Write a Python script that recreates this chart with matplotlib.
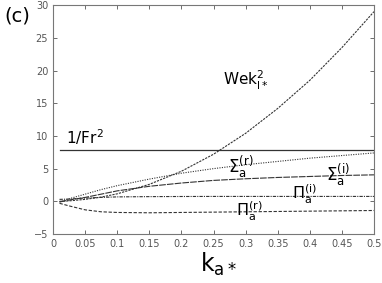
import matplotlib
matplotlib.use("Agg")
import matplotlib.pyplot as plt

k = [0.01, 0.025, 0.05, 0.075, 0.1, 0.15, 0.2, 0.25, 0.3, 0.35, 0.4, 0.45, 0.5]
wek = [0.0, 0.07, 0.3, 0.65, 1.15, 2.6, 4.6, 7.2, 10.4, 14.2, 18.5, 23.5, 29.0]
sigma_r = [-0.1, 0.4, 1.1, 1.8, 2.4, 3.4, 4.3, 5.0, 5.6, 6.1, 6.6, 7.0, 7.4]
sigma_i = [-0.1, 0.2, 0.6, 1.1, 1.6, 2.3, 2.8, 3.2, 3.45, 3.65, 3.8, 3.95, 4.05]
pi_i = [0.3, 0.35, 0.5, 0.6, 0.68, 0.72, 0.74, 0.75, 0.75, 0.75, 0.75, 0.75, 0.75]
pi_r = [-0.3, -0.7, -1.3, -1.6, -1.7, -1.75, -1.7, -1.65, -1.6, -1.55, -1.5, -1.45, -1.4]
inv_fr2 = 7.9

xticks = [0, 0.05, 0.1, 0.15, 0.2, 0.25, 0.3, 0.35, 0.4, 0.45, 0.5]
xticklabels = ["0", "0.05", "0.1", "0.15", "0.2", "0.25", "0.3", "0.35", "0.4", "0.45", "0.5"]
yticks = [-5, 0, 5, 10, 15, 20, 25, 30]

plt.rcParams['mathtext.default'] = 'regular'
fig = plt.figure(figsize=(3.82, 2.83), dpi=100)
ax = fig.add_axes([0.139, 0.173, 0.840, 0.809])

lc = '#333333'
ax.plot(k, wek, color=lc, lw=0.8, ls=(0, (2, 1)))
ax.plot([k[0], k[-1]], [inv_fr2, inv_fr2], color=lc, lw=0.9, ls='-')
ax.plot(k, sigma_r, color=lc, lw=0.8, ls=(0, (1, 1.2)))
ax.plot(k, sigma_i, color=lc, lw=0.8, ls=(0, (6, 1)))
ax.plot(k, pi_i, color=lc, lw=0.8, ls=(0, (3, 1, 1, 1)))
ax.plot(k, pi_r, color=lc, lw=0.8, ls=(0, (3, 1.5)))

ax.set_xlim(0, 0.5)
ax.set_ylim(-5, 30)
ax.set_xticks(xticks)
ax.set_xticklabels(xticklabels)
ax.set_yticks(yticks)
ax.tick_params(direction='in', top=True, right=True, labelsize=7, colors='#555555', length=3, width=0.6)
for s in ax.spines.values():
    s.set_color('#777777')
    s.set_linewidth(0.8)

ax.set_xlabel(r'k$_{a*}$', fontsize=17, labelpad=3)
ax.xaxis.set_label_coords(0.515, -0.075)

ax.text(0.265, 18.5, r'Wek$_{l*}^{2}$', fontsize=11, ha='left', va='center')
ax.text(0.02, 8.3, r'1/Fr$^{2}$', fontsize=11, ha='left', va='bottom')
ax.text(0.272, 5.3, r'$\Sigma_{a}^{(r)}$', fontsize=12, ha='left', va='center')
ax.text(0.425, 4.1, r'$\Sigma_{a}^{(i)}$', fontsize=12, ha='left', va='center')
ax.text(0.373, 1.1, r'$\Pi_{a}^{(i)}$', fontsize=11.5, ha='left', va='center')
ax.text(0.285, -1.6, r'$\Pi_{a}^{(r)}$', fontsize=11.5, ha='left', va='center')

fig.text(0.012, 0.945, '(c)', fontsize=14, ha='left', va='center')

fig.savefig('out.png', dpi=100)
